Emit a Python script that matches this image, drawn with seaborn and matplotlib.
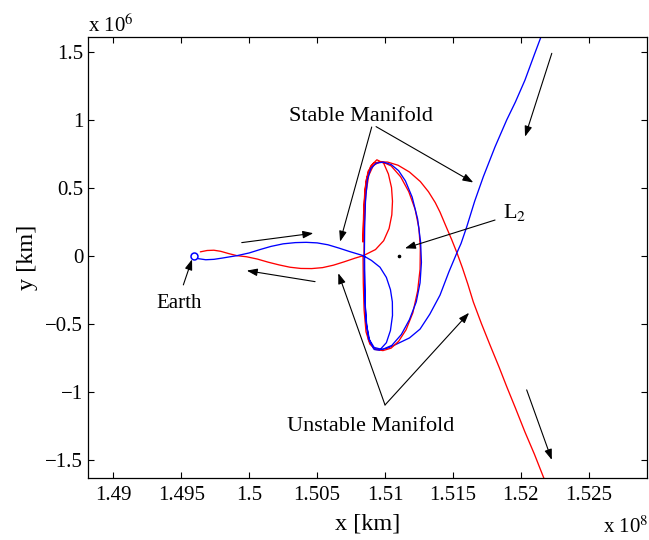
import matplotlib
matplotlib.use("Agg")
import matplotlib.pyplot as plt
import seaborn as sns
from matplotlib.ticker import FuncFormatter

# ---------------- data (x in units of 1e8 km, y in units of 1e6 km) ----------------
# stable manifold, interior branch (Earth -> periodic orbit), blue
blue_in_x = [1.49625, 1.49680, 1.49740, 1.49800, 1.49860, 1.49910, 1.50000, 1.50080, 1.50160,
             1.50250, 1.50340, 1.50420, 1.50500, 1.50580, 1.50660, 1.50740, 1.50800, 1.50840,
             1.50900, 1.50963, 1.51010, 1.51040, 1.51054, 1.51055, 1.51040, 1.51010, 1.50960,
             1.50920, 1.50888, 1.50866, 1.50855, 1.50850, 1.50848,
             1.50850, 1.50856, 1.50870, 1.50895, 1.50935, 1.50987, 1.51045, 1.51100, 1.51150,
             1.51200, 1.51240, 1.51262, 1.51268, 1.51258, 1.51230, 1.51180, 1.51120, 1.51050,
             1.50980, 1.50920, 1.50880, 1.50860, 1.50852, 1.50848, 1.50849]
blue_in_y = [-0.022, -0.030, -0.027, -0.018, -0.008, 0.000, 0.020, 0.045, 0.068,
             0.087, 0.096, 0.098, 0.094, 0.080, 0.056, 0.030, 0.012, 0.000,
             -0.035, -0.085, -0.160, -0.250, -0.340, -0.440, -0.550, -0.640, -0.695,
             -0.690, -0.630, -0.520, -0.380, -0.200, 0.000,
             0.200, 0.400, 0.560, 0.640, 0.680, 0.688, 0.670, 0.625, 0.550,
             0.430, 0.270, 0.100, -0.050, -0.200, -0.340, -0.470, -0.580, -0.660,
             -0.690, -0.675, -0.610, -0.480, -0.300, -0.100, 0.000]

# unstable manifold, interior branch (periodic orbit -> Earth), red
red_in_x = [1.50838, 1.50840, 1.50846, 1.50860, 1.50888, 1.50930, 1.50985, 1.51045, 1.51100,
            1.51155, 1.51205, 1.51240, 1.51258, 1.51260, 1.51250, 1.51222, 1.51175, 1.51115,
            1.51045, 1.50975, 1.50915, 1.50875, 1.50852, 1.50842, 1.50838,
            1.50840, 1.50848, 1.50862, 1.50895, 1.50940, 1.50990, 1.51025, 1.51048, 1.51055,
            1.51050, 1.51030, 1.50990, 1.50930, 1.50840,
            1.50780, 1.50700, 1.50620, 1.50540, 1.50460, 1.50380, 1.50300, 1.50220, 1.50140,
            1.50060, 1.49980, 1.49910, 1.49850, 1.49790, 1.49740, 1.49690, 1.49640]
red_in_y = [0.000, -0.200, -0.400, -0.560, -0.650, -0.690, -0.698, -0.680, -0.630,
            -0.545, -0.420, -0.260, -0.100, 0.050, 0.200, 0.340, 0.470, 0.580,
            0.660, 0.692, 0.680, 0.620, 0.490, 0.300, 0.100,
            0.200, 0.400, 0.560, 0.660, 0.705, 0.680, 0.600, 0.500, 0.400,
            0.300, 0.200, 0.110, 0.045, 0.000,
            -0.018, -0.045, -0.070, -0.088, -0.095, -0.094, -0.085, -0.068, -0.048,
            -0.025, -0.008, 0.000, 0.015, 0.032, 0.040, 0.038, 0.028]

# stable manifold, exterior branch (far side -> periodic orbit), blue
blue_out_x = [1.52160, 1.52100, 1.52030, 1.51960, 1.51896, 1.51810, 1.51724, 1.51660, 1.51602,
              1.51560, 1.51528, 1.51470, 1.51405, 1.51330, 1.51258, 1.51180, 1.51086, 1.51020,
              1.50963, 1.50915, 1.50878, 1.50858, 1.50850, 1.50848]
blue_out_y = [1.640, 1.480, 1.290, 1.130, 0.998, 0.800, 0.581, 0.400, 0.213,
              0.090, 0.018, -0.120, -0.290, -0.430, -0.540, -0.605, -0.650, -0.680,
              -0.692, -0.680, -0.620, -0.480, -0.250, 0.000]

# unstable manifold, exterior branch (periodic orbit -> far side), red
red_out_x = [1.50845, 1.50848, 1.50858, 1.50880, 1.50915, 1.50965, 1.51020, 1.51096, 1.51180,
             1.51260, 1.51320, 1.51370, 1.51405, 1.51445, 1.51490, 1.51530, 1.51570, 1.51610,
             1.51650, 1.51710, 1.51773, 1.51840, 1.51896, 1.51960, 1.52030, 1.52100, 1.52175]
red_out_y = [0.000, 0.250, 0.450, 0.590, 0.665, 0.690, 0.688, 0.665, 0.615,
             0.545, 0.470, 0.390, 0.320, 0.225, 0.120, 0.020, -0.090, -0.210,
             -0.340, -0.500, -0.657, -0.820, -0.963, -1.120, -1.296, -1.460, -1.650]

earth_x, earth_y = [1.4959], [0.0]
l2_x, l2_y = [1.511], [0.0]

x_ticks = [1.49, 1.495, 1.5, 1.505, 1.51, 1.515, 1.52, 1.525]
y_ticks = [-1.5, -1, -0.5, 0, 0.5, 1, 1.5]

arrow_tail_x = [1.49945, 1.50485, 1.50902, 1.50934, 1.51000, 1.51000, 1.51810, 1.49515, 1.52228, 1.52043]
arrow_tail_y = [0.096, -0.191, 0.946, 0.949, -1.098, -1.098, 0.262, -0.215, 1.488, -0.987]
arrow_head_x = [1.50472, 1.49982, 1.50669, 1.51650, 1.50656, 1.51619, 1.51147, 1.49579, 1.52031, 1.52228]
arrow_head_y = [0.165, -0.110, 0.103, 0.538, -0.129, -0.420, 0.054, -0.027, 0.875, -1.502]

label_text = ["Stable Manifold", "Unstable Manifold", "Earth"]
label_x = [1.50820, 1.50895, 1.49483]
label_y = [0.987, -1.293, -0.385]

# ---------------- styling ----------------
sns.set_theme(style="ticks")
plt.rcParams['font.family'] = ['Liberation Serif', 'DejaVu Serif']
plt.rcParams['mathtext.fontset'] = 'stix'
plt.rcParams['axes.unicode_minus'] = True
plt.rcParams['axes.edgecolor'] = 'black'
plt.rcParams['xtick.color'] = 'black'
plt.rcParams['ytick.color'] = 'black'
plt.rcParams['text.color'] = 'black'
plt.rcParams['axes.labelcolor'] = 'black'

fig = plt.figure(figsize=(6.49, 5.40), dpi=100)
ax = fig.add_axes([88 / 649, 1 - 478 / 540, (647 - 88) / 649, (478 - 37) / 540])

lw = 0.95
sns.lineplot(x=red_out_x, y=red_out_y, sort=False, estimator=None, color='red', linewidth=lw, ax=ax)
sns.lineplot(x=blue_out_x, y=blue_out_y, sort=False, estimator=None, color='blue', linewidth=lw, ax=ax)
sns.lineplot(x=red_in_x, y=red_in_y, sort=False, estimator=None, color='red', linewidth=lw, ax=ax)
sns.lineplot(x=blue_in_x, y=blue_in_y, sort=False, estimator=None, color='blue', linewidth=lw, ax=ax)

ax.plot(earth_x, earth_y, marker='o', markersize=5, markerfacecolor='none',
        markeredgecolor='blue', markeredgewidth=1.1, linestyle='none')
ax.plot(l2_x, l2_y, marker='o', markersize=1.6, color='black', linestyle='none')

for tx, ty, hx, hy in zip(arrow_tail_x, arrow_tail_y, arrow_head_x, arrow_head_y):
    ax.annotate('', xy=(hx, hy), xytext=(tx, ty),
                arrowprops=dict(arrowstyle='-|>,head_length=0.45,head_width=0.16',
                                color='black', lw=0.8, shrinkA=0, shrinkB=0,
                                mutation_scale=14))

for t, lx, ly in zip(label_text, label_x, label_y):
    ax.text(lx, ly, t, ha='center', va='baseline', fontsize=16 if t != "Earth" else 15)
ax.text(1.51867, 0.277, r'L$_2$', ha='left', va='baseline', fontsize=16)

ax.set_xlim(1.48813, 1.52929)
ax.set_ylim(-1.635, 1.608)
ax.set_xticks(x_ticks)
ax.set_yticks(y_ticks)
fmt = FuncFormatter(lambda v, p: f"{v:g}".replace('-', '\u2212'))
ax.xaxis.set_major_formatter(fmt)
ax.yaxis.set_major_formatter(fmt)
ax.tick_params(direction='in', top=True, right=True, length=4, width=0.8, labelsize=15)
ax.tick_params(axis='x', pad=6)
ax.tick_params(axis='y', pad=3.5)
for s in ax.spines.values():
    s.set_linewidth(0.9)
    s.set_color('black')
    s.set_visible(True)

ax.set_xlabel('x [km]', fontsize=17.5)
ax.set_ylabel('y [km]', fontsize=17.5)
ax.xaxis.label.set_va('center')
ax.xaxis.set_label_coords(0.5, (478 - 524) / 441)
ax.yaxis.label.set_va('center')
ax.yaxis.set_label_coords((27.5 - 88) / 559, 0.5)

fig.text(88 / 649, 1 - 32 / 540, r'x 10$^{6}$', ha='left', va='baseline', fontsize=15)
fig.text(648 / 649, 1 - 533 / 540, r'x 10$^{8}$', ha='right', va='baseline', fontsize=15)

fig.savefig('out.png', dpi=100, facecolor='white')
